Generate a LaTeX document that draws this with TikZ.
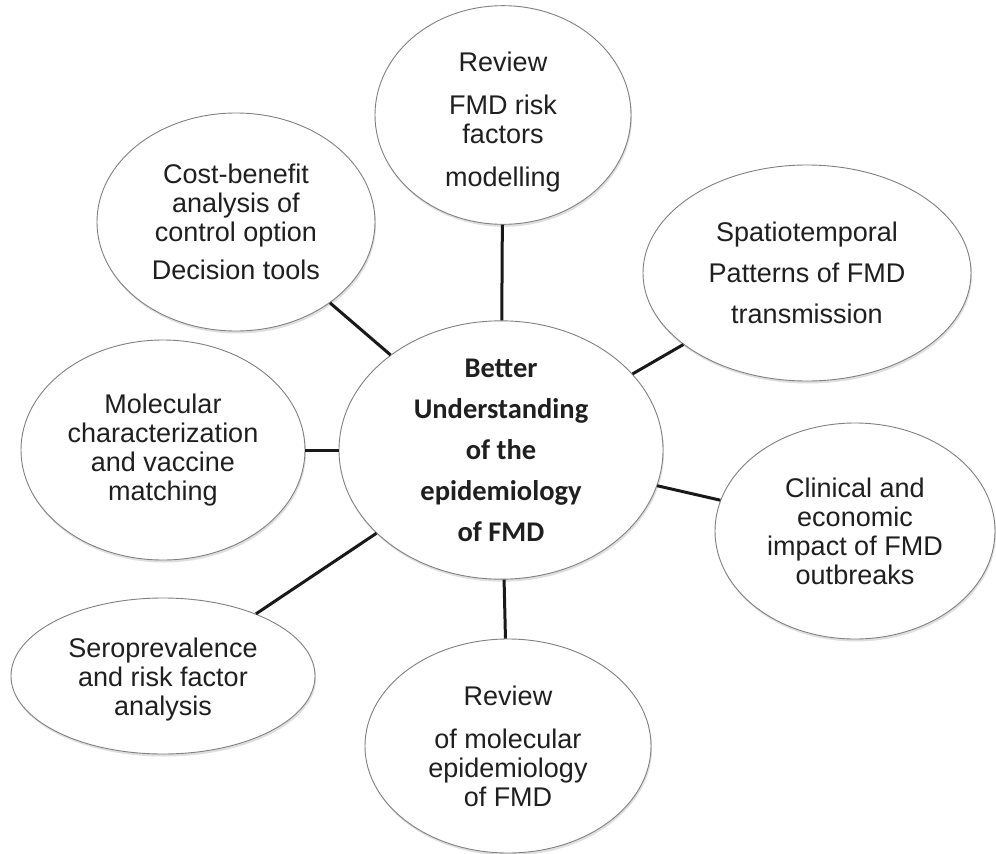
\documentclass[tikz,border=0pt]{standalone}
\usepackage{fontspec}
\setmainfont{Liberation Sans}
\newfontfamily\calibrifont{Carlito}
\usetikzlibrary{shapes.geometric,shadows}
\begin{document}
\begin{tikzpicture}[x=1pt,y=-1pt,
  bubble/.style={ellipse, draw=black!50, line width=0.9pt, fill=white, inner sep=0pt,
    align=center, text=black!88, font=\fontsize{27}{29}\selectfont,
    drop shadow={opacity=0.25, shadow xshift=1pt, shadow yshift=-2.5pt}},
  hub/.style={bubble, font=\calibrifont\bfseries\fontsize{28.5}{41}\selectfont},
  link/.style={line width=3pt, draw=black!90}]
\useasboundingbox (0,0) rectangle (996,854);
\fill[white] (0,0) rectangle (996,854);

\node[hub, minimum width=324pt, minimum height=216pt] (core) at (501,450)
  {Better\\Understanding\\of the\\epidemiology\\of FMD};

\node[bubble, minimum width=256pt, minimum height=206pt] (riskf) at (503,115)
  {Review\rule{0pt}{34pt}\\[14pt]FMD risk\\factors\\[14pt]modelling};
\node[bubble, minimum width=278pt, minimum height=218pt] (cost) at (236,222)
  {Cost-benefit\\analysis of\\control option\\[9pt]Decision tools};
\node[bubble, minimum width=328pt, minimum height=216pt] (spatio) at (807,273)
  {Spatiotemporal\\[12pt]Patterns of FMD\\[12pt]transmission};
\node[bubble, minimum width=284pt, minimum height=220pt] (molec) at (163,450)
  {Molecular\\characterization\\and vaccine\\matching};
\node[bubble, minimum width=280pt, minimum height=216pt] (clin) at (855,531)
  {Clinical and\\economic\\impact of FMD\\outbreaks};
\node[bubble, minimum width=304pt, minimum height=156pt] (sero) at (163,676)
  {Seroprevalence\rule{0pt}{26pt}\\and risk factor\\analysis};
\node[bubble, minimum width=286pt, minimum height=214pt] (molrev) at (508,746)
  {Review\\[14pt]of molecular\\epidemiology\\of FMD};

\draw[link] (core) -- (riskf);
\draw[link] (core) -- (cost);
\draw[link] (core) -- (spatio);
\draw[link] (core) -- (molec);
\draw[link] (core) -- (clin);
\draw[link] (core) -- (sero);
\draw[link] (core) -- (molrev);
\end{tikzpicture}
\end{document}
